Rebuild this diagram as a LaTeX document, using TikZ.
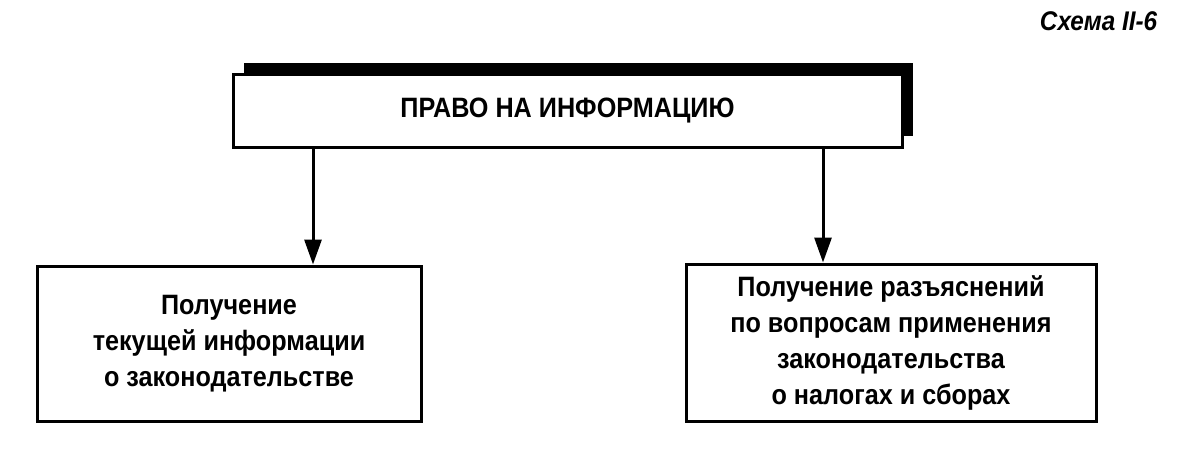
\documentclass[tikz,border=0pt]{standalone}
\usepackage{fontspec}
\setmainfont{Liberation Sans}[FakeStretch=0.9]
\usetikzlibrary{arrows.meta,shadows}

\begin{document}
\begin{tikzpicture}[x=1pt, y=-1pt, thick]
    \tikzstyle{topbox} = [rectangle, draw, line width=3pt, fill=white, minimum width=669pt, minimum height=73pt, text centered,
        drop shadow={shadow xshift=11pt, shadow yshift=11pt, fill=black, opacity=1},
        font=\bfseries\fontsize{28}{36}\selectfont]
    \tikzstyle{leafbox} = [rectangle, draw, line width=3pt, align=center, font=\bfseries\fontsize{28}{36}\selectfont]
    \tikzstyle{transition} = [-{Triangle[length=25pt, width=17pt]}, line width=3pt]
    \useasboundingbox (0,0) rectangle (1201,463);
    \node[anchor=east, font=\bfseries\itshape\fontsize{27}{28}\selectfont] (scheme) at (1161, 21) {Схема II-6};
    \node[topbox] (R) at (567.5, 110.5) {ПРАВО НА ИНФОРМАЦИЮ};
    \node[leafbox, minimum width=384pt, minimum height=155pt] (C) at (229, 343.5)
        {Получение\\текущей информации\\о законодательстве};
    \node[leafbox, minimum width=410pt, minimum height=157pt] (E) at (891, 342.5)
        {Получение разъяснений\\по вопросам применения\\законодательства\\о налогах и сборах};
    \draw[transition] (R.south -| 313,0) -- (C.north -| 313,0);
    \draw[transition] (R.south -| 823,0) -- (E.north -| 823,0);
\end{tikzpicture}
\end{document}
